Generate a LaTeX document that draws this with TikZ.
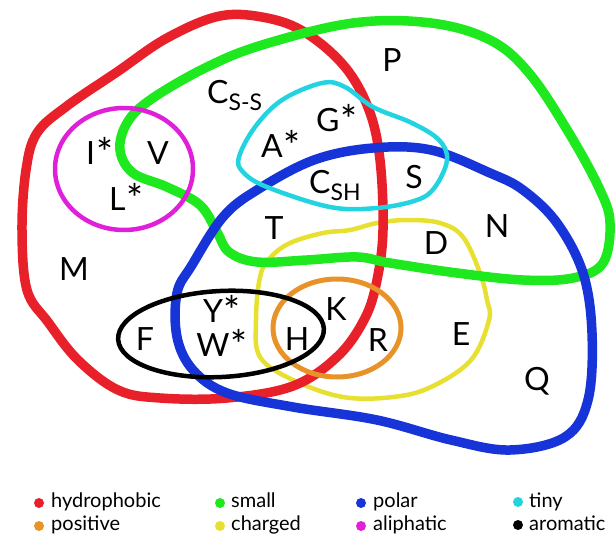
\documentclass[tikz,border=0pt]{standalone}
\usepackage{fontspec}
\setmainfont{Lato}
\definecolor{cred}{HTML}{E8202A}
\definecolor{cgreen}{HTML}{1EE81E}
\definecolor{cblue}{HTML}{1634D8}
\definecolor{ccyan}{HTML}{22D3E0}
\definecolor{cmag}{HTML}{E020D8}
\definecolor{cyel}{HTML}{E8E030}
\definecolor{corange}{HTML}{E8922A}
\newcommand\subtxt[1]{\raisebox{-7pt}{\fontsize{23}{23}\selectfont #1}}
\newcommand\astx{\kern1pt\raisebox{-3pt}[0pt][0pt]{\fontsize{40}{40}\selectfont *}}
\begin{document}
\begin{tikzpicture}[x=1pt,y=-1pt,line join=round,
  thick set/.style={line width=9.5pt},
  thin set/.style={line width=4.5pt},
  lbl/.style={inner sep=0pt,font=\fontsize{32}{32}\selectfont},
  leg/.style={inner sep=0pt,anchor=base west,font=\fontsize{20}{20}\selectfont},
  legdot/.style={circle,inner sep=0pt,minimum size=10pt}]
\useasboundingbox (0,0) rectangle (615,534);
% charged (yellow)
\draw[cyel,thin set] plot[smooth cycle,tension=0.6] coordinates {(260,277) (270,258) (290,243) (323,233) (350,230) (377,223) (407,220) (440,223) (463,237) (480,273) (487,300) (489,320) (471,360) (431,387) (393,397) (343,397) (293,380) (260,357) (256,320)};
% hydrophobic (red)
\draw[cred,thick set] plot[smooth cycle,tension=0.6] coordinates {(117,72) (167,38) (220,16) (267,18) (306,33) (345,67) (369,110) (380,160) (383,230) (377,280) (365,318) (338,356) (293,386) (227,398) (160,398) (118,390) (78,360) (48,322) (27,290) (22,230) (26,170) (37,133) (67,106)};
% small (green)
\draw[cgreen,thick set] plot[smooth cycle,tension=0.6] coordinates {(120,150) (127,123) (150,100) (205,68) (262,45) (353,23) (431,23) (490,40) (529,73) (569,133) (600,190) (610,223) (603,263) (573,278) (523,280) (457,273) (390,263) (357,257) (307,260) (257,262) (229,252) (217,232) (200,205) (167,187) (133,173)};
% polar (blue)
\draw[cblue,thick set] plot[smooth cycle,tension=0.6] coordinates {(192,265) (223,217) (257,190) (314,160) (373,148) (431,150) (490,173) (523,190) (557,223) (583,273) (592,333) (588,400) (565,437) (510,450) (451,440) (377,420) (293,407) (227,393) (193,370) (177,337) (177,293)};
% tiny (cyan)
\draw[ccyan,thin set] plot[smooth cycle,tension=0.6] coordinates {(239,157) (255,127) (282,100) (322,83) (345,87) (373,107) (412,123) (439,140) (447,160) (435,187) (417,200) (377,208) (330,207) (267,187) (243,172)};
% aliphatic (magenta)
\draw[cmag,thin set] (124,169) ellipse [x radius=69,y radius=61];
% positive (orange)
\draw[corange,line width=5pt] (337,328) ellipse [x radius=64,y radius=49];
% aromatic (black)
\draw[black,thin set] (221,334) ellipse [x radius=103,y radius=43,rotate=3];
% labels
\node[lbl,anchor=base] (P) at (392,72) {P};
\node[lbl,anchor=base west] (Css) at (207,104) {C\subtxt{S-S}};
\node[lbl,anchor=base west] (A) at (261,158) {A\astx};
\node[lbl,anchor=base west] (G) at (316,132) {G\astx};
\node[lbl,anchor=base west] (I) at (86,165) {I\astx};
\node[lbl,anchor=base] (V) at (158,165) {V};
\node[lbl,anchor=base west] (L) at (109,211) {L\astx};
\node[lbl,anchor=base west] (Csh) at (309,194) {C\subtxt{SH}};
\node[lbl,anchor=base] (S) at (414,189) {S};
\node[lbl,anchor=base] (T) at (274,240) {T};
\node[lbl,anchor=base] (D) at (436,255) {D};
\node[lbl,anchor=base] (N) at (497,238) {N};
\node[lbl,anchor=base] (M) at (74,280) {M};
\node[lbl,anchor=base] (F) at (145,350) {F};
\node[inner sep=0pt,align=center,font=\fontsize{32}{34}\selectfont,anchor=base] (YW) at (222,356) {Y\astx\\W\astx};
\node[lbl,anchor=base] (H) at (297,350) {H};
\node[lbl,anchor=base] (K) at (336,320) {K};
\node[lbl,anchor=base] (R) at (378,351) {R};
\node[lbl,anchor=base] (E) at (461,345) {E};
\node[lbl,anchor=base] (Q) at (537,390) {Q};
% legend
\node[legdot,fill=cred] (d1) at (39,503) {};
\node[leg] (t1) at (51,507) {hydrophobic};
\node[legdot,fill=cgreen] (d2) at (220,503) {};
\node[leg] (t2) at (231,507) {small};
\node[legdot,fill=cblue] (d3) at (361,503) {};
\node[leg] (t3) at (373,507) {polar};
\node[legdot,fill=ccyan] (d4) at (518,502) {};
\node[leg] (t4) at (529,507) {tiny};
\node[legdot,fill=corange] (d5) at (39,526) {};
\node[leg] (t5) at (51,530) {positive};
\node[legdot,fill=cyel] (d6) at (220,526) {};
\node[leg] (t6) at (231,530) {charged};
\node[legdot,fill=cmag] (d7) at (361,526) {};
\node[leg] (t7) at (373,530) {aliphatic};
\node[legdot,fill=black] (d8) at (518,525) {};
\node[leg] (t8) at (529,530) {aromatic};
\end{tikzpicture}
\end{document}
